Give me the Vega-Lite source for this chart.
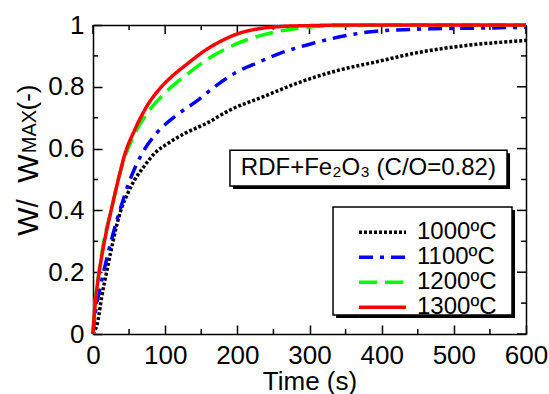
{
  "$schema": "https://vega.github.io/schema/vega-lite/v6.json",
  "width": 433,
  "height": 309,
  "autosize": {"type": "none"},
  "padding": {"left": 93, "top": 25, "right": 23, "bottom": 60},
  "config": {
    "font": "Liberation Sans",
    "view": {"stroke": null},
    "axis": {"grid": false, "domainColor": "#000000", "tickColor": "#000000", "labelColor": "#000000", "titleColor": "#000000", "titleFontWeight": "normal", "domainWidth": 1.5, "tickWidth": 1.5, "labelFont": "Liberation Sans", "titleFont": "Liberation Sans"}
  },
  "datasets": {
    "xticks": [
      {"pos": 0, "kind": "major"}, {"pos": 50, "kind": "minor"}, {"pos": 100, "kind": "major"}, {"pos": 150, "kind": "minor"},
      {"pos": 200, "kind": "major"}, {"pos": 250, "kind": "minor"}, {"pos": 300, "kind": "major"}, {"pos": 350, "kind": "minor"},
      {"pos": 400, "kind": "major"}, {"pos": 450, "kind": "minor"}, {"pos": 500, "kind": "major"}, {"pos": 550, "kind": "minor"},
      {"pos": 600, "kind": "major"}
    ],
    "yticks": [
      {"pos": 0, "kind": "major"}, {"pos": 0.1, "kind": "minor"}, {"pos": 0.2, "kind": "major"}, {"pos": 0.3, "kind": "minor"},
      {"pos": 0.4, "kind": "major"}, {"pos": 0.5, "kind": "minor"}, {"pos": 0.6, "kind": "major"}, {"pos": 0.7, "kind": "minor"},
      {"pos": 0.8, "kind": "major"}, {"pos": 0.9, "kind": "minor"}, {"pos": 1, "kind": "major"}
    ],
    "annShadow": [{"x": 194.0, "x2": 577.9, "y": 0.469, "y2": 0.585}],
    "legShadow": [{"x": 336.8, "x2": 584.8, "y": 0.052, "y2": 0.401}],
    "annBox": [{"x": 189.8, "x2": 573.7, "y": 0.479, "y2": 0.595}],
    "legBox": [{"x": 332.6, "x2": 580.6, "y": 0.0615, "y2": 0.411}],
    "annText": [{"x": 381.6, "y": 0.537, "label": "RDF+Fe₂O₃ (C/O=0.82)"}],
    "curves": [
      {"series": "1000ºC", "time": 0, "ratio": 0},
      {"series": "1000ºC", "time": 7, "ratio": 0.045},
      {"series": "1000ºC", "time": 12, "ratio": 0.12},
      {"series": "1000ºC", "time": 18.5, "ratio": 0.196},
      {"series": "1000ºC", "time": 25, "ratio": 0.27},
      {"series": "1000ºC", "time": 32.3, "ratio": 0.347},
      {"series": "1000ºC", "time": 40, "ratio": 0.41},
      {"series": "1000ºC", "time": 48.5, "ratio": 0.457},
      {"series": "1000ºC", "time": 58, "ratio": 0.5},
      {"series": "1000ºC", "time": 69.3, "ratio": 0.538},
      {"series": "1000ºC", "time": 85.5, "ratio": 0.585},
      {"series": "1000ºC", "time": 104, "ratio": 0.617},
      {"series": "1000ºC", "time": 127, "ratio": 0.649},
      {"series": "1000ºC", "time": 159, "ratio": 0.684},
      {"series": "1000ºC", "time": 190, "ratio": 0.725},
      {"series": "1000ºC", "time": 236, "ratio": 0.768},
      {"series": "1000ºC", "time": 282, "ratio": 0.811},
      {"series": "1000ºC", "time": 337.7, "ratio": 0.852},
      {"series": "1000ºC", "time": 393, "ratio": 0.881},
      {"series": "1000ºC", "time": 453, "ratio": 0.912},
      {"series": "1000ºC", "time": 522, "ratio": 0.935},
      {"series": "1000ºC", "time": 594, "ratio": 0.949},
      {"series": "1000ºC", "time": 600, "ratio": 0.95},
      {"series": "1100ºC", "time": 0, "ratio": 0},
      {"series": "1100ºC", "time": 3.2, "ratio": 0.067},
      {"series": "1100ºC", "time": 10, "ratio": 0.15},
      {"series": "1100ºC", "time": 20.8, "ratio": 0.261},
      {"series": "1100ºC", "time": 36, "ratio": 0.391},
      {"series": "1100ºC", "time": 53, "ratio": 0.509},
      {"series": "1100ºC", "time": 67, "ratio": 0.58},
      {"series": "1100ºC", "time": 87.7, "ratio": 0.649},
      {"series": "1100ºC", "time": 113, "ratio": 0.703},
      {"series": "1100ºC", "time": 145.5, "ratio": 0.757},
      {"series": "1100ºC", "time": 168.6, "ratio": 0.8},
      {"series": "1100ºC", "time": 196.3, "ratio": 0.844},
      {"series": "1100ºC", "time": 230, "ratio": 0.88},
      {"series": "1100ºC", "time": 259, "ratio": 0.908},
      {"series": "1100ºC", "time": 305, "ratio": 0.941},
      {"series": "1100ºC", "time": 351.5, "ratio": 0.966},
      {"series": "1100ºC", "time": 393, "ratio": 0.98},
      {"series": "1100ºC", "time": 476, "ratio": 0.988},
      {"series": "1100ºC", "time": 540, "ratio": 0.99},
      {"series": "1100ºC", "time": 600, "ratio": 0.993},
      {"series": "1200ºC", "time": 0, "ratio": 0},
      {"series": "1200ºC", "time": 2, "ratio": 0.08},
      {"series": "1200ºC", "time": 4.6, "ratio": 0.14},
      {"series": "1200ºC", "time": 8.3, "ratio": 0.2},
      {"series": "1200ºC", "time": 15, "ratio": 0.3},
      {"series": "1200ºC", "time": 26.3, "ratio": 0.41},
      {"series": "1200ºC", "time": 35, "ratio": 0.5},
      {"series": "1200ºC", "time": 43.9, "ratio": 0.57},
      {"series": "1200ºC", "time": 55, "ratio": 0.635},
      {"series": "1200ºC", "time": 71.6, "ratio": 0.703},
      {"series": "1200ºC", "time": 99.3, "ratio": 0.779},
      {"series": "1200ºC", "time": 131.6, "ratio": 0.843},
      {"series": "1200ºC", "time": 164, "ratio": 0.897},
      {"series": "1200ºC", "time": 201, "ratio": 0.941},
      {"series": "1200ºC", "time": 235.6, "ratio": 0.968},
      {"series": "1200ºC", "time": 282, "ratio": 0.989},
      {"series": "1200ºC", "time": 328, "ratio": 0.997},
      {"series": "1200ºC", "time": 380, "ratio": 0.999},
      {"series": "1200ºC", "time": 450, "ratio": 1},
      {"series": "1200ºC", "time": 600, "ratio": 1},
      {"series": "1300ºC", "time": 0, "ratio": 0},
      {"series": "1300ºC", "time": 2, "ratio": 0.07},
      {"series": "1300ºC", "time": 4.6, "ratio": 0.132},
      {"series": "1300ºC", "time": 8.3, "ratio": 0.196},
      {"series": "1300ºC", "time": 16.2, "ratio": 0.304},
      {"series": "1300ºC", "time": 26.3, "ratio": 0.412},
      {"series": "1300ºC", "time": 35.6, "ratio": 0.505},
      {"series": "1300ºC", "time": 43.9, "ratio": 0.58},
      {"series": "1300ºC", "time": 57.7, "ratio": 0.66},
      {"series": "1300ºC", "time": 71.6, "ratio": 0.725},
      {"series": "1300ºC", "time": 94.7, "ratio": 0.8},
      {"series": "1300ºC", "time": 110, "ratio": 0.835},
      {"series": "1300ºC", "time": 131.6, "ratio": 0.876},
      {"series": "1300ºC", "time": 154.7, "ratio": 0.917},
      {"series": "1300ºC", "time": 175, "ratio": 0.945},
      {"series": "1300ºC", "time": 201, "ratio": 0.972},
      {"series": "1300ºC", "time": 230, "ratio": 0.988},
      {"series": "1300ºC", "time": 260, "ratio": 0.995},
      {"series": "1300ºC", "time": 300, "ratio": 0.998},
      {"series": "1300ºC", "time": 350, "ratio": 1},
      {"series": "1300ºC", "time": 450, "ratio": 1},
      {"series": "1300ºC", "time": 600, "ratio": 1}
    ]
  },
  "resolve": {"axis": {"x": "independent", "y": "independent"}},
  "layer": [
    {
      "data": {"name": "annShadow"},
      "mark": {"type": "rect", "fill": "#000000"},
      "encoding": {
        "x": {"field": "x", "type": "quantitative", "scale": {"domain": [0, 600], "nice": false, "zero": false}, "axis": null},
        "x2": {"field": "x2"},
        "y": {"field": "y", "type": "quantitative", "scale": {"domain": [0, 1], "nice": false, "zero": false},
          "axis": {"orient": "left", "labels": false, "ticks": false, "domain": false, "title": "W", "titleFontSize": 30, "titleAngle": 270, "titleX": -56, "titleY": 143, "titleBaseline": "alphabetic", "titleAlign": "center"}},
        "y2": {"field": "y2"}
      }
    },
    {
      "data": {"name": "legShadow"},
      "mark": {"type": "rect", "fill": "#000000"},
      "encoding": {
        "x": {"field": "x", "type": "quantitative", "scale": {"domain": [0, 600], "nice": false, "zero": false}, "axis": null},
        "x2": {"field": "x2"},
        "y": {"field": "y", "type": "quantitative", "scale": {"domain": [0, 1], "nice": false, "zero": false},
          "axis": {"orient": "left", "labels": false, "ticks": false, "domain": false, "title": "MAX", "titleFontSize": 20, "titleAngle": 270, "titleX": -58, "titleY": 106, "titleBaseline": "alphabetic", "titleAlign": "center"}},
        "y2": {"field": "y2"}
      }
    },
    {
      "data": {"name": "annBox"},
      "mark": {"type": "rect", "fill": "#ffffff", "stroke": "#000000", "strokeWidth": 1.5},
      "encoding": {
        "x": {"field": "x", "type": "quantitative", "scale": {"domain": [0, 600], "nice": false, "zero": false}, "axis": null},
        "x2": {"field": "x2"},
        "y": {"field": "y", "type": "quantitative", "scale": {"domain": [0, 1], "nice": false, "zero": false},
          "axis": {"orient": "left", "labels": false, "ticks": false, "domain": false, "title": "(-)", "titleFontSize": 26, "titleAngle": 270, "titleX": -58, "titleY": 72, "titleBaseline": "alphabetic", "titleAlign": "center"}},
        "y2": {"field": "y2"}
      }
    },
    {
      "data": {"name": "legBox"},
      "mark": {"type": "rect", "fill": "#ffffff", "stroke": "#000000", "strokeWidth": 1.5},
      "encoding": {
        "x": {"field": "x", "type": "quantitative", "scale": {"domain": [0, 600], "nice": false, "zero": false}, "axis": null},
        "x2": {"field": "x2"},
        "y": {"field": "y", "type": "quantitative", "scale": {"domain": [0, 1], "nice": false, "zero": false}, "axis": null},
        "y2": {"field": "y2"}
      }
    },
    {
      "data": {"name": "annText"},
      "mark": {"type": "text", "fontSize": 24, "font": "Liberation Sans", "align": "center", "baseline": "middle", "color": "#000000"},
      "encoding": {
        "x": {"field": "x", "type": "quantitative", "scale": {"domain": [0, 600], "nice": false, "zero": false},
          "axis": {"orient": "top", "labels": false, "ticks": false, "domain": true, "title": null}},
        "y": {"field": "y", "type": "quantitative", "scale": {"domain": [0, 1], "nice": false, "zero": false},
          "axis": {"orient": "right", "labels": false, "ticks": false, "domain": true, "title": null}},
        "text": {"field": "label"}
      }
    },
    {
      "data": {"name": "xticks"},
      "transform": [{"filter": "datum.kind === 'minor'"}],
      "mark": {"type": "rule", "color": "#000000", "strokeWidth": 1.5},
      "encoding": {
        "x": {"field": "pos", "type": "quantitative", "scale": {"domain": [0, 600], "nice": false, "zero": false}, "axis": null},
        "y": {"datum": 0, "type": "quantitative", "scale": {"domain": [0, 1], "nice": false, "zero": false}, "axis": null},
        "y2": {"datum": 0.0162}
      }
    },
    {
      "data": {"name": "xticks"},
      "transform": [{"filter": "datum.kind === 'major'"}],
      "mark": {"type": "rule", "color": "#000000", "strokeWidth": 1.5},
      "encoding": {
        "x": {"field": "pos", "type": "quantitative", "scale": {"domain": [0, 600], "nice": false, "zero": false}, "axis": null},
        "y": {"datum": 1, "type": "quantitative", "scale": {"domain": [0, 1], "nice": false, "zero": false}, "axis": null},
        "y2": {"datum": 0.9709}
      }
    },
    {
      "data": {"name": "xticks"},
      "transform": [{"filter": "datum.kind === 'minor'"}],
      "mark": {"type": "rule", "color": "#000000", "strokeWidth": 1.5},
      "encoding": {
        "x": {"field": "pos", "type": "quantitative", "scale": {"domain": [0, 600], "nice": false, "zero": false}, "axis": null},
        "y": {"datum": 1, "type": "quantitative", "scale": {"domain": [0, 1], "nice": false, "zero": false}, "axis": null},
        "y2": {"datum": 0.9838}
      }
    },
    {
      "data": {"name": "yticks"},
      "transform": [{"filter": "datum.kind === 'minor'"}],
      "mark": {"type": "rule", "color": "#000000", "strokeWidth": 1.5},
      "encoding": {
        "y": {"field": "pos", "type": "quantitative", "scale": {"domain": [0, 1], "nice": false, "zero": false}, "axis": null},
        "x": {"datum": 0, "type": "quantitative", "scale": {"domain": [0, 600], "nice": false, "zero": false}, "axis": null},
        "x2": {"datum": 6.93}
      }
    },
    {
      "data": {"name": "yticks"},
      "transform": [{"filter": "datum.kind === 'major'"}],
      "mark": {"type": "rule", "color": "#000000", "strokeWidth": 1.5},
      "encoding": {
        "y": {"field": "pos", "type": "quantitative", "scale": {"domain": [0, 1], "nice": false, "zero": false}, "axis": null},
        "x": {"datum": 600, "type": "quantitative", "scale": {"domain": [0, 600], "nice": false, "zero": false}, "axis": null},
        "x2": {"datum": 587.53}
      }
    },
    {
      "data": {"name": "yticks"},
      "transform": [{"filter": "datum.kind === 'minor'"}],
      "mark": {"type": "rule", "color": "#000000", "strokeWidth": 1.5},
      "encoding": {
        "y": {"field": "pos", "type": "quantitative", "scale": {"domain": [0, 1], "nice": false, "zero": false}, "axis": null},
        "x": {"datum": 600, "type": "quantitative", "scale": {"domain": [0, 600], "nice": false, "zero": false}, "axis": null},
        "x2": {"datum": 593.07}
      }
    },
    {
      "data": {"name": "curves"},
      "mark": {"type": "line", "strokeWidth": 3.5, "interpolate": "monotone", "clip": false, "strokeCap": "butt"},
      "encoding": {
        "x": {"field": "time", "type": "quantitative", "scale": {"domain": [0, 600], "nice": false, "zero": false},
          "axis": {"orient": "bottom", "values": [0, 100, 200, 300, 400, 500, 600], "ticks": true, "tickSize": -9, "domain": true, "labelFontSize": 26, "labelPadding": 17, "labelFlush": false, "labelOverlap": false,
            "title": "Time (s)", "titleFontSize": 26, "titleX": 216.5, "titleY": 55, "titleBaseline": "alphabetic", "titleAlign": "center"}},
        "y": {"field": "ratio", "type": "quantitative", "scale": {"domain": [0, 1], "nice": false, "zero": false},
          "axis": {"orient": "left", "values": [0, 0.2, 0.4, 0.6, 0.8, 1], "ticks": true, "tickSize": -9, "domain": true, "labelFontSize": 26, "labelPadding": 18, "labelFlush": false, "labelOverlap": false, "format": "~g",
            "title": "W/", "titleFontSize": 30, "titleAngle": 270, "titleX": -56, "titleY": 192, "titleBaseline": "alphabetic", "titleAlign": "center"}},
        "color": {"field": "series", "type": "nominal",
          "scale": {"domain": ["1000ºC", "1100ºC", "1200ºC", "1300ºC"], "range": ["#000000", "#0000ff", "#00ff00", "#ff0000"]},
          "legend": {"orient": "none", "legendX": 264, "legendY": 195.5, "padding": 0, "title": null, "symbolType": "stroke", "symbolSize": 2209, "symbolStrokeWidth": 3.5, "clipHeight": 23.3, "rowPadding": 0, "labelFontSize": 24, "labelFont": "Liberation Sans", "labelColor": "#000000", "labelOffset": 9, "symbolOffset": 0, "labelLimit": 0}},
        "strokeDash": {"field": "series", "type": "nominal",
          "scale": {"domain": ["1000ºC", "1100ºC", "1200ºC", "1300ºC"], "range": [[3, 2], [14, 7, 4, 7], [18, 8], [1, 0]]},
          "legend": {"orient": "none", "legendX": 264, "legendY": 195.5, "padding": 0, "title": null, "symbolType": "stroke", "symbolSize": 2209, "symbolStrokeWidth": 3.5, "clipHeight": 23.3, "rowPadding": 0, "labelFontSize": 24, "labelFont": "Liberation Sans", "labelColor": "#000000", "labelOffset": 9, "symbolOffset": 0, "labelLimit": 0}}
      }
    }
  ]
}
